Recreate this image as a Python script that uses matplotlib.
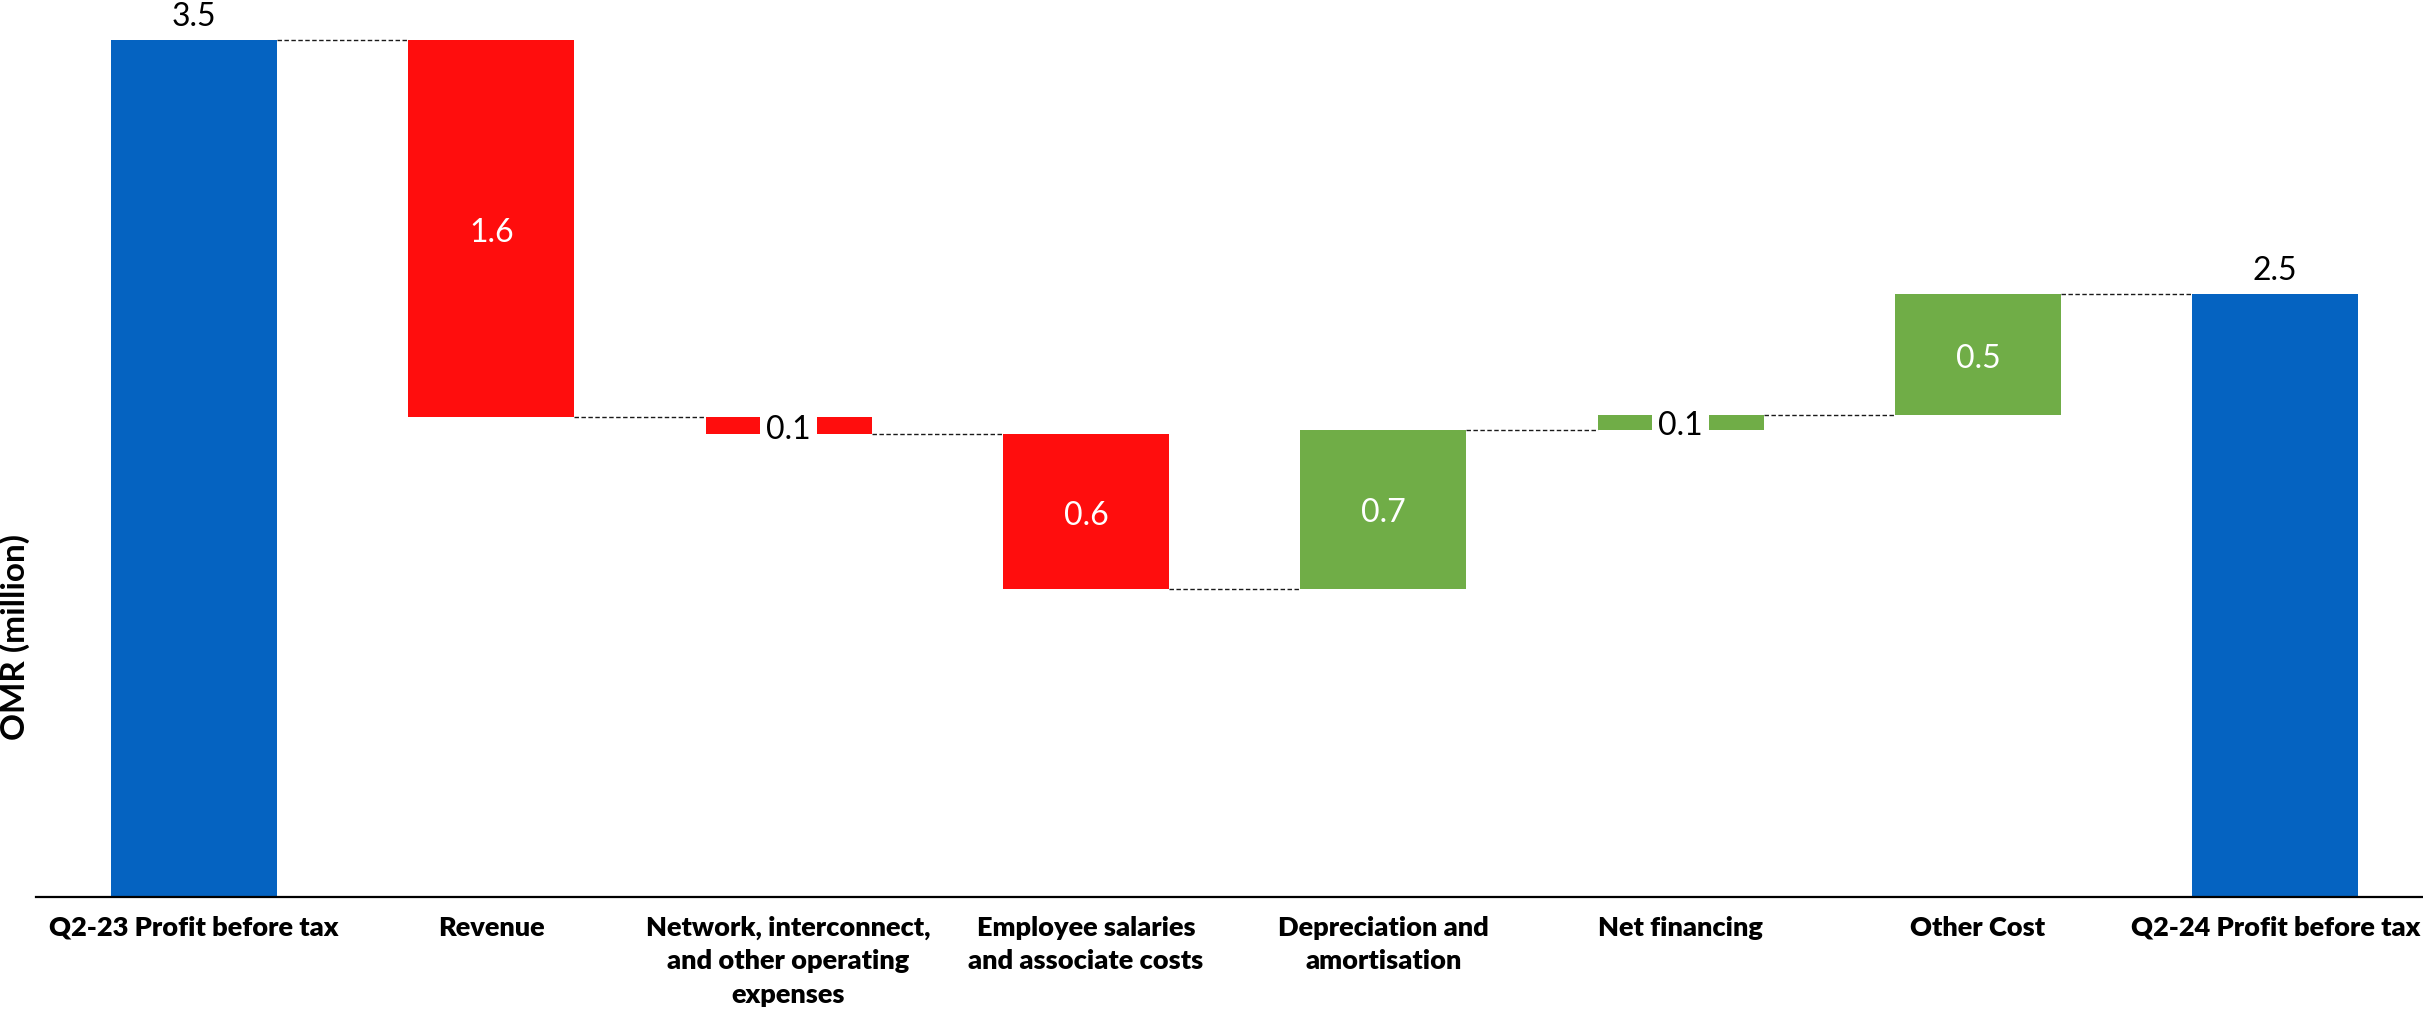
import matplotlib
matplotlib.use("Agg")
import matplotlib.pyplot as plt

# Profit bridge, OMR million
categories = [
    "Q2-23 Profit before tax",
    "Revenue",
    "Network, interconnect,\nand other operating\nexpenses",
    "Employee salaries\nand associate costs",
    "Depreciation and\namortisation",
    "Net financing",
    "Other Cost",
    "Q2-24 Profit before tax",
]
opening_total = 3.54
changes = [-1.56, -0.07, -0.64, 0.66, 0.06, 0.50]

BLUE = "#0563C1"
RED = "#FF0D0D"
GREEN = "#70AD47"
FONT = ["Lato", "DejaVu Sans"]

plt.rcParams["font.family"] = FONT

W, H = 2423, 1012
fig = plt.figure(figsize=(W / 100, H / 100), dpi=100)

px_per_unit = 856.5 / opening_total
base_px = 114.5
ax = fig.add_axes([36 / W, base_px / H, 1 - 36 / W, 1 - base_px / H])
ax.set_xlim(-0.531, 7.497)
ax.set_ylim(0, (H - base_px) / px_per_unit)

bar_w = 0.558

# build bar geometry from the running total
bottoms, heights, colors = [0.0], [opening_total], [BLUE]
level = opening_total
levels = [level]
for c in changes:
    new = level + c
    bottoms.append(min(level, new))
    heights.append(abs(c))
    colors.append(GREEN if c > 0 else RED)
    level = new
    levels.append(level)
closing_total = level
bottoms.append(0.0)
heights.append(closing_total)
colors.append(BLUE)

x = list(range(len(categories)))
ax.bar(x, heights, bottom=bottoms, width=bar_w, color=colors, linewidth=0, zorder=2)

# dashed connectors between consecutive bars
for i in range(len(categories) - 1):
    ax.plot([i + bar_w / 2, i + 1 - bar_w / 2], [levels[i], levels[i]],
            color="#1a1a1a", lw=1.0, linestyle=(0, (3.2, 1.8)), zorder=1)

label_size = 23
# totals: labels above
for i, v in ((0, opening_total), (len(categories) - 1, closing_total)):
    ax.annotate(f"{v:.1f}", (i, v), xytext=(0, 10.8), textcoords="offset points",
                ha="center", va="baseline", fontsize=label_size, color="black")

# changes: labels centred in the floating bars
for k, c in enumerate(changes):
    i = k + 1
    yc = bottoms[i] + heights[i] / 2
    txt = f"{abs(c):.1f}"
    if abs(c) < 0.15:
        ax.text(i, yc, txt, ha="center", va="center_baseline", fontsize=label_size,
                color="black", zorder=3,
                bbox=dict(boxstyle="square,pad=0.18", fc="white", ec="none"))
    else:
        ax.text(i, yc, txt, ha="center", va="center_baseline", fontsize=label_size,
                color="white", zorder=3)

ax.set_xticks(x)
ax.set_xticklabels(categories, fontsize=19.5, fontweight="heavy", linespacing=1.47)
ax.tick_params(axis="x", length=0, pad=13)
ax.set_yticks([])
for s in ("left", "right", "top"):
    ax.spines[s].set_visible(False)
ax.spines["bottom"].set_linewidth(1.6)
ax.spines["bottom"].set_color("black")

fig.text(15 / W, 1 - 637 / H, "OMR (million)", rotation=90, ha="center", va="center",
         fontsize=24, fontweight="bold")

fig.savefig("out.png", dpi=100)
